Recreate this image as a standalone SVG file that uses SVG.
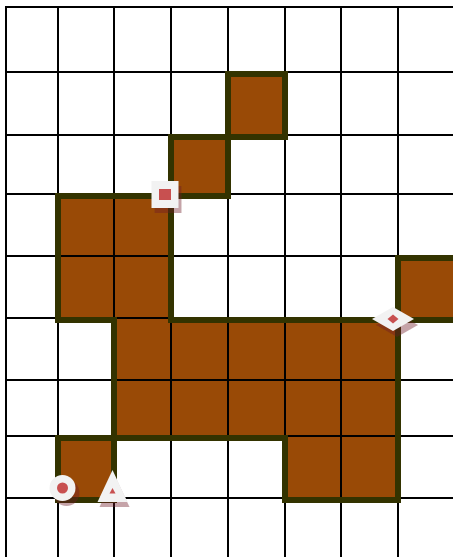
<svg xmlns="http://www.w3.org/2000/svg" width="453" height="557" viewBox="0 0 453 557">
<defs>
<style>
.cell{fill:#994a06;stroke:none}
.grid line{stroke:#000;stroke-width:2}
.border{fill:none;stroke:#333300;stroke-width:6;stroke-linecap:square;stroke-linejoin:miter}
.mk{fill:#f2f2f2}
.dot{fill:#c85050}
.sh{fill:#6e1e28;fill-opacity:0.4}
</style>
<filter id="blur" x="-20%" y="-20%" width="140%" height="140%"><feGaussianBlur stdDeviation="0.6"/></filter>
</defs>
<rect width="453" height="557" fill="#fff"/>
<g id="cells">
<rect class="cell" x="228" y="72" width="57" height="63"/>
<rect class="cell" x="171" y="135" width="57" height="59"/>
<rect class="cell" x="58" y="194" width="113" height="124"/>
<rect class="cell" x="398" y="256" width="60" height="62"/>
<rect class="cell" x="114" y="318" width="284" height="118"/>
<rect class="cell" x="285" y="436" width="113" height="62"/>
<rect class="cell" x="58" y="436" width="56" height="62"/>
</g>
<g id="grid" class="grid">
<line x1="6" y1="6" x2="6" y2="557"/>
<line x1="58" y1="6" x2="58" y2="557"/>
<line x1="114" y1="6" x2="114" y2="557"/>
<line x1="171" y1="6" x2="171" y2="557"/>
<line x1="228" y1="6" x2="228" y2="557"/>
<line x1="285" y1="6" x2="285" y2="557"/>
<line x1="341" y1="6" x2="341" y2="557"/>
<line x1="398" y1="6" x2="398" y2="557"/>
<line x1="5" y1="7" x2="453" y2="7"/>
<line x1="5" y1="72" x2="453" y2="72"/>
<line x1="5" y1="135" x2="453" y2="135"/>
<line x1="5" y1="194" x2="453" y2="194"/>
<line x1="5" y1="256" x2="453" y2="256"/>
<line x1="5" y1="318" x2="453" y2="318"/>
<line x1="5" y1="380" x2="453" y2="380"/>
<line x1="5" y1="436" x2="453" y2="436"/>
<line x1="5" y1="498" x2="453" y2="498"/>
</g>
<g id="borders" transform="translate(0,2)">
<path class="border" d="M228,72 H285 V135 H228 Z"/>
<path class="border" d="M171,135 H228 V194 H171 Z"/>
<path class="border" d="M114,318 H58 V194 H171 V318"/>
<path class="border" d="M458,256 H398 V318 H458"/>
<path class="border" d="M171,318 H398 V498 H285 V436 H114 V318"/>
<path class="border" d="M58,436 H114 V498 H58 Z"/>
</g>
<g id="marker-square" transform="translate(165,194.5)">
<rect class="sh" filter="url(#blur)" x="-10.5" y="-8.5" width="27" height="27"/>
<rect class="mk" x="-13.5" y="-13.5" width="27" height="27"/>
<rect class="dot" x="-6" y="-5.5" width="12" height="11"/>
</g>
<g id="marker-diamond" transform="translate(393,319)">
<polygon class="sh" filter="url(#blur)" points="4,-6 25,6 4,18 -17,6"/>
<polygon class="mk" points="0,-12 21,0 0,12 -21,0"/>
<polygon class="dot" points="0,-4.5 5.5,0 0,4.5 -5.5,0"/>
</g>
<g id="marker-circle" transform="translate(62.5,488)">
<circle class="sh" filter="url(#blur)" cx="4" cy="5" r="13"/>
<circle class="mk" r="13"/>
<circle class="dot" r="5.5"/>
</g>
<g id="marker-triangle" transform="translate(112.5,488)">
<polygon class="sh" filter="url(#blur)" points="2,-13 17,19 -13,19"/>
<polygon class="mk" points="0,-18 15,14 -15,14"/>
<polygon class="dot" points="0,0 3,5.5 -3,5.5"/>
</g>
</svg>
